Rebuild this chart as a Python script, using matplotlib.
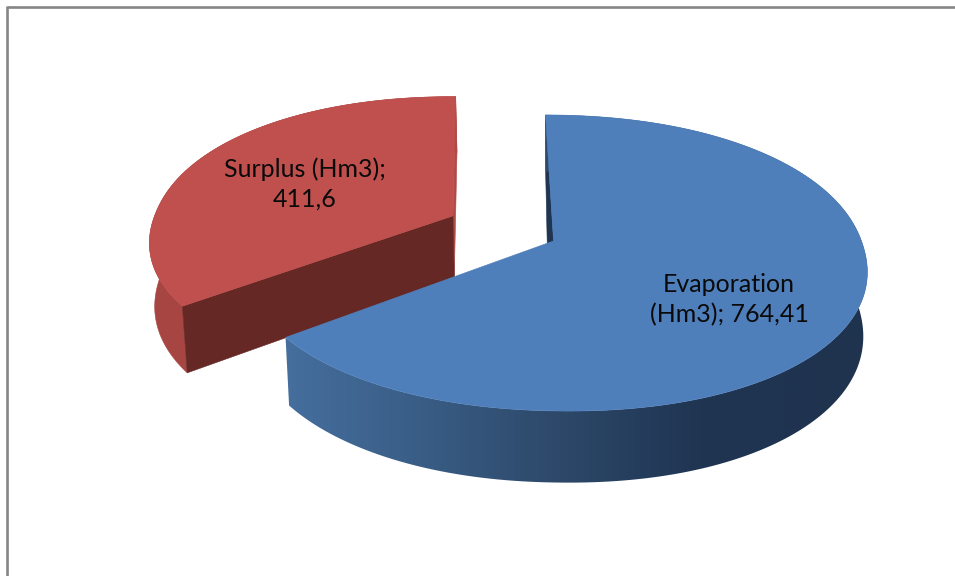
"""Exploded 3D pie of the reservoir water balance (Hm3)."""

import matplotlib

matplotlib.use("Agg")
import matplotlib.pyplot as plt
import numpy as np
from matplotlib.colors import to_rgb
from matplotlib.patches import Polygon

# ---------------------------------------------------------------------------
# Data
# ---------------------------------------------------------------------------

categories = ["Evaporation (Hm3)", "Surplus (Hm3)"]
values = [764.41, 411.6]
value_labels = ["764,41", "411,6"]

# ---------------------------------------------------------------------------
# Style
# ---------------------------------------------------------------------------

BLUE_TOP = "#4F7FBB"
BLUE_INNER = "#1F3552"
RED_TOP = "#BF504D"
RED_SIDE = "#A64542"
RED_EDGE = "#AF4A47"
RED_CUT = "#652825"
FRAME = "#868686"

# colours of the blue outer wall, left to right (pixel x)
WALL_X = [280, 400, 560, 700, 870]
WALL_COLORS = ["#466F9F", "#3B6089", "#2D4869", "#1F3552", "#1F334F"]

# projection of the pie disc to the picture, pixels
CX, CY = 556, 241
RX, RY = 307, 144.7
PERSP = 0.1486
SHEAR = 0.015
BOTTOM_CY = 304
BOTTOM_RY = 152
BOTTOM_RX = 303
START_DEG = -1.9
EXPLODE = (-0.344, 0.167)
RED_RADIUS = 0.99
RIM_POWER = 0.95  # slightly fuller than a true ellipse
BLUE_APEX = (-0.008, 0.0)
INNER_SHIFT = -5

plt.rcParams["font.family"] = ["Lato", "DejaVu Sans"]


def project(u, v, bottom=False):
    """Disc coordinates to picture pixels, on the top or bottom plane."""
    u, v = np.asarray(u, float), np.asarray(v, float)
    w = 1 + PERSP * v
    if bottom:
        x = CX + BOTTOM_RX * u / w
        return x, BOTTOM_CY - BOTTOM_RY * v / w + SHEAR * (x - CX)
    x = CX + RX * u / w
    return x, CY - RY * v / w + SHEAR * (x - CX)


def rim(a0, a1, off=(0.0, 0.0), radius=1.0):
    """Disc coordinates of the rim between two clockwise angles."""
    t = np.radians(np.linspace(a0, a1, 200))
    s, c = np.sin(t), np.cos(t)
    s = np.sign(s) * np.abs(s) ** RIM_POWER
    c = np.sign(c) * np.abs(c) ** RIM_POWER
    return radius * s + off[0], radius * c + off[1]


def face(ax, xs, ys, color, zorder):
    ax.add_patch(
        Polygon(np.column_stack([xs, ys]), closed=True, facecolor=color,
                edgecolor=color, linewidth=0.4, zorder=zorder)
    )


fig = plt.figure(figsize=(9.55, 5.76), dpi=100)
ax = fig.add_axes([0, 0, 1, 1])
ax.set_xlim(0, 955)
ax.set_ylim(576, 0)
ax.axis("off")

# chart frame: only the top and left edges are in view
ax.plot([6.5, 955], [7, 7], color=FRAME, lw=1.9, solid_capstyle="butt", zorder=1)
ax.plot([6.5, 6.5], [6, 576], color=FRAME, lw=1.9, solid_capstyle="butt", zorder=1)

sweep = [v / sum(values) * 360 for v in values]
blue_end = START_DEG + sweep[0]
red_end = blue_end + sweep[1]

# --- Surplus slice, pulled away from the centre ---
u, v = rim(blue_end, red_end, EXPLODE, RED_RADIUS)
x_top, y_top = project(u, v)
x_bot, y_bot = project(u, v, bottom=True)
ax_apex = project(*EXPLODE)
ax_apex_bot = project(*EXPLODE, bottom=True)

face(ax, np.r_[x_top, x_bot[::-1]], np.r_[y_top, y_bot[::-1]], RED_SIDE, 2)
face(ax, [x_top[-1], ax_apex[0], ax_apex_bot[0], x_bot[-1]],
     [y_top[-1], ax_apex[1], ax_apex_bot[1], y_bot[-1]], RED_EDGE, 3)
face(ax, [x_top[0], ax_apex[0], ax_apex_bot[0], x_bot[0]],
     [y_top[0], ax_apex[1], ax_apex_bot[1], y_bot[0]], RED_CUT, 4)
face(ax, np.r_[ax_apex[0], x_top], np.r_[ax_apex[1], y_top], RED_TOP, 5)

# --- Evaporation slice ---
u, v = rim(START_DEG, blue_end)
x_top, y_top = project(u, v)
x_bot, y_bot = project(u, v, bottom=True)
apex = project(*BLUE_APEX)
apex_bot = project(*BLUE_APEX, bottom=True)

# inner wall, only a thin sliver shows beside the top face
face(ax, [x_top[0], apex[0], apex_bot[0] + INNER_SHIFT, x_bot[0]],
     [y_top[0], apex[1], apex_bot[1], y_bot[0]], BLUE_INNER, 6)

# outer wall with the horizontal shading
grad_x = np.linspace(WALL_X[0], WALL_X[-1], 400)
rgb = np.array([to_rgb(c) for c in WALL_COLORS])
grad = np.stack([np.interp(grad_x, WALL_X, rgb[:, i]) for i in range(3)], axis=-1)
wall = Polygon(np.column_stack([np.r_[x_top, x_bot[::-1]], np.r_[y_top, y_bot[::-1]]]),
               closed=True, transform=ax.transData, facecolor="none", edgecolor="none")
ax.add_patch(wall)
img = ax.imshow(grad[np.newaxis, :, :], extent=[WALL_X[0], WALL_X[-1], 576, 0],
                aspect="auto", zorder=7, interpolation="bilinear")
img.set_clip_path(wall)
ax.set_xlim(0, 955)
ax.set_ylim(576, 0)

face(ax, np.r_[apex[0], x_top], np.r_[apex[1], y_top], BLUE_TOP, 8)

# --- Data labels ---
for name, val_txt, pos, split in zip(
    categories, value_labels, [(729, 300), (305, 184)], ["\n", " "]
):
    head, unit = name.split(" ")
    if split == "\n":
        txt = f"{head}\n{unit}; {val_txt}"
    else:
        txt = f"{head} {unit};\n{val_txt}"
    ax.text(pos[0], pos[1], txt, ha="center", va="center", fontsize=18,
            color="#0A0A0A", linespacing=1.37, zorder=10)

fig.savefig("out.png", dpi=100)
